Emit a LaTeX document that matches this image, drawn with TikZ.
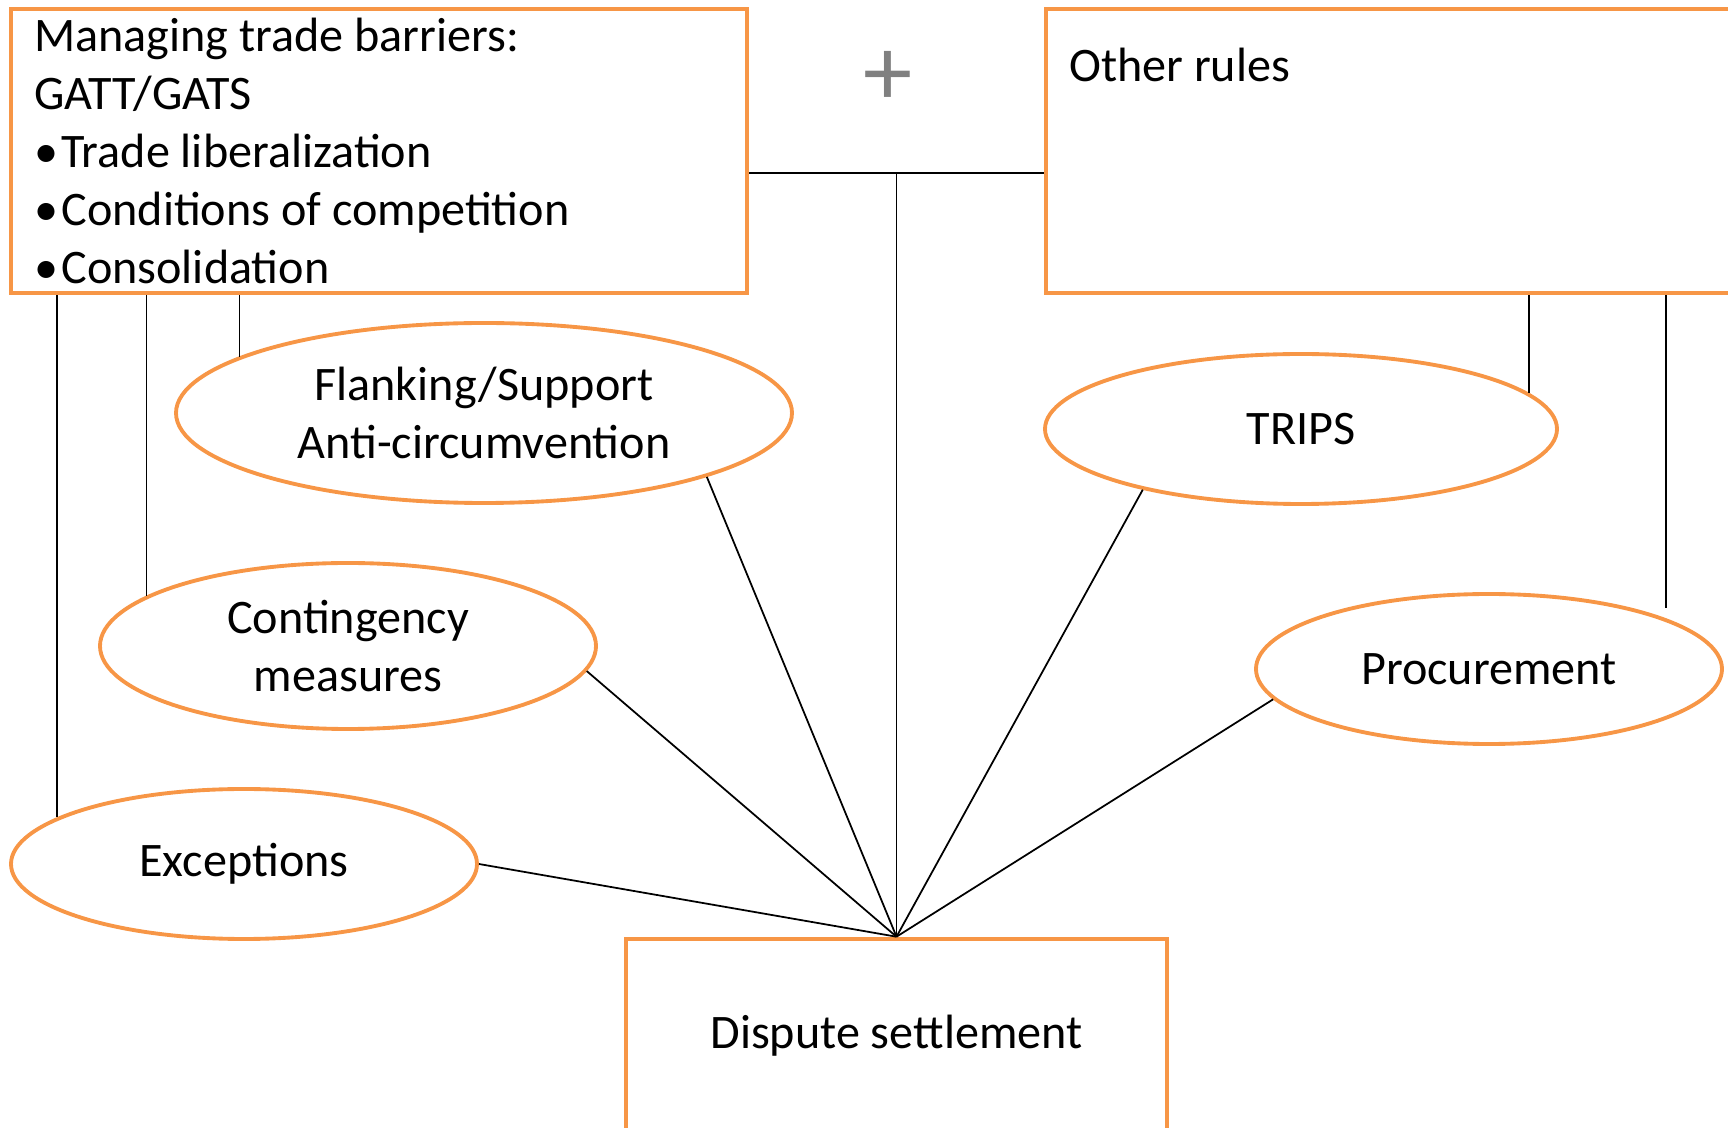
\documentclass[tikz,border=0pt]{standalone}
\usepackage{fontspec}
\setmainfont{Carlito}
\usetikzlibrary{shapes.geometric}
\definecolor{boxorange}{RGB}{247,150,70}

\begin{document}
\begin{tikzpicture}[
    rbox/.style={draw=boxorange,line width=1.3pt,rectangle,inner sep=0pt},
    oval/.style={draw=boxorange,line width=1.1pt,ellipse,inner sep=0pt,align=center},
    link/.style={line width=0.5pt},
    font=\fontsize{13.7}{16.5}\selectfont]
    \useasboundingbox (0,0) rectangle (17.28,11.28);
    \clip (0,0) rectangle (17.28,11.28);

    \node[rbox,minimum width=7.36cm,minimum height=2.84cm,text width=6.9cm,inner xsep=0.23cm,align=flush left] (mtb) at (3.79,9.77)
        {Managing trade barriers:\\GATT/GATS\\•\kern1pt Trade liberalization\\•\kern1pt Conditions of competition\\•\kern1pt Consolidation};
    \node[rbox,minimum width=7.14cm,minimum height=2.84cm] (other) at (14.03,9.77) {};
    \node[anchor=west] (otherlbl) at ([xshift=0.13cm,yshift=-0.58cm]other.north west) {Other rules};
    \node[text=gray,font=\fontsize{28}{28}\selectfont] (plus) at (8.88,10.50) {+};

    \node[rbox,minimum width=5.41cm,minimum height=1.94cm] (ds) at (8.965,0.92) {Dispute settlement};

    \node[oval,minimum width=6.16cm,minimum height=1.80cm] (flank) at (4.84,7.15) {Flanking/Support\\Anti-circumvention};
    \node[oval,minimum width=4.96cm,minimum height=1.66cm] (cont) at (3.48,4.82) {Contingency\\measures};
    \node[oval,minimum width=4.66cm,minimum height=1.50cm] (exc) at (2.44,2.64) {Exceptions};
    \node[oval,minimum width=5.12cm,minimum height=1.50cm] (trips) at (13.01,6.99) {TRIPS};
    \node[oval,minimum width=4.66cm,minimum height=1.50cm] (proc) at (14.89,4.59) {Procurement};

    \coordinate (join) at (ds.north |- 0,9.55);

    \draw[link] (mtb.east |- join) -- (other.west |- join);
    \draw[link] (join) -- (ds.north);

    \draw[link] (flank.167 |- mtb.south) -- (flank.167);
    \draw[link] (cont.166 |- mtb.south) -- (cont.166);
    \draw[link] (exc.166 |- mtb.south) -- (exc.166);
    \draw[link] (trips.9 |- other.south) -- (trips.9);
    \draw[link] (proc.16 |- other.south) -- ([yshift=0.1cm]proc.16);

    \draw[link] (exc.east) -- (ds.north);
    \draw[link] (cont.-6) -- (ds.north);
    \draw[link] (flank.-16) -- (ds.north);
    \draw[link] (trips.201) -- (ds.north);
    \draw[link] (proc.188) -- (ds.north);

\end{tikzpicture}
\end{document}
